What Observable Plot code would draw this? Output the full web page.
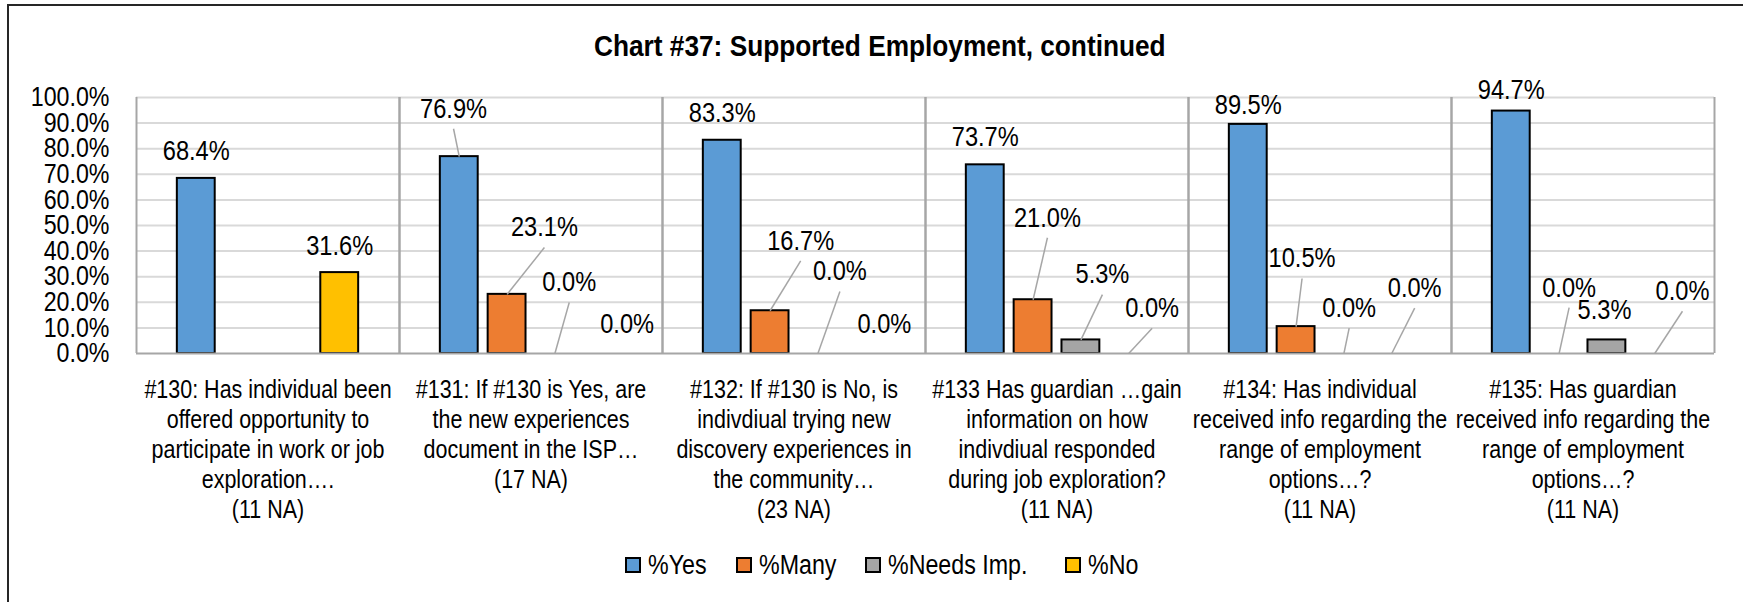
<!DOCTYPE html>
<html>
<head>
<meta charset="utf-8">
<script src="https://cdn.jsdelivr.net/npm/d3@7"></script>
<script src="https://cdn.jsdelivr.net/npm/@observablehq/plot@0.6"></script>
<style>
  html, body { margin: 0; padding: 0; background: #fff; }
  body { width: 1743px; height: 602px; position: relative; overflow: hidden;
         font-family: "Liberation Sans", Arial, sans-serif; }
  #frame { position: absolute; left: 7px; top: 4px; width: 1760px; height: 620px;
           border-left: 2px solid #262626; border-top: 2px solid #262626; }
  #title { position: absolute; left: 8px; width: 1743px; top: 27.5px; text-align: center;
           font-weight: bold; font-size: 29px; color: #000; line-height: 36px; }
  #title span { display: inline-block; transform: scaleX(0.905); transform-origin: center; }
  #chart { position: absolute; left: 0; top: 64px; }
  .item { position: absolute; top: 549px; height: 32px; display: flex; align-items: center; font-size: 27px; color: #000; white-space: nowrap; }
  .sw { width: 12px; height: 12px; border: 2px solid #000; margin-right: 7px; flex: none; }
  .item span { display: inline-block; transform: scaleX(0.86); transform-origin: left center; }
</style>
</head>
<body>
<div id="frame"></div>
<div id="title"><span>Chart #37: Supported Employment, continued</span></div>
<div id="chart"></div>
<script>
// ---- data ----
const questions = ["#130", "#131", "#132", "#133", "#134", "#135"];
const questionLabels = [
  "#130: Has individual been\noffered opportunity to\nparticipate in work or job\nexploration….\n(11 NA)",
  "#131: If #130 is Yes, are\nthe new experiences\ndocument in the ISP…\n(17 NA)",
  "#132: If #130 is No, is\nindivdiual trying new\ndiscovery experiences in\nthe community…\n(23 NA)",
  "#133 Has guardian …gain\ninformation on how\nindivdiual responded\nduring job exploration?\n(11 NA)",
  "#134: Has individual\nreceived info regarding the\nrange of employment\noptions…?\n(11 NA)",
  "#135: Has guardian\nreceived info regarding the\nrange of employment\noptions…?\n(11 NA)"
];
const seriesNames = ["%Yes", "%Many", "%Needs Imp.", "%No"];
const yesValues   = [68.4, 76.9, 83.3, 73.7, 89.5, 94.7];
const manyValues  = [null, 23.1, 16.7, 21.0, 10.5, 0.0];
const needsValues = [null, 0.0, 0.0, 5.3, 0.0, 5.3];
const noValues    = [31.6, 0.0, 0.0, 0.0, 0.0, 0.0];
const yTicks = [0, 10, 20, 30, 40, 50, 60, 70, 80, 90, 100];

// ---- styling / label placement (kept apart from data) ----
const colors = ["#5b9bd5", "#ed7d31", "#a5a5a5", "#ffc000"];
// data-label placement per question and series: [x shift in slot units, label y in %]
const labelShift = [
  [[0, 79.1], null, null, [0, 42.1]],
  [[-0.12, 95.6], [0.78, 49.2], [0.30, 27.7], [0.51, 11.3]],
  [[0, 94.0], [0.64, 44.0], [0.46, 32.0], [0.39, 11.3]],
  [[0, 84.6], [0.30, 53.0], [0.45, 30.8], [0.49, 17.7]],
  [[0, 97.1], [0.125, 37.1], [0.11, 17.7], [0.48, 25.5]],
  [[0, 102.7], [0.21, 25.7], [-0.05, 16.8], [0.58, 24.3]]
];
const leaders = [
  [false, false, false, false],
  [true, true, true, false],
  [false, true, true, false],
  [false, true, true, true],
  [false, true, true, true],
  [false, true, false, true]
];
const legendLeft = [625, 736, 865, 1065];
const NARROW = 0.86;

const allSeries = [yesValues, manyValues, needsValues, noValues];
const rows = [];
questions.forEach((q, qi) => {
  allSeries.forEach((vals, si) => {
    const v = vals[qi];
    if (v == null) return;
    const ls = labelShift[qi][si];
    rows.push({q, series: seriesNames[si], slot: si, value: v,
               lx: si + ls[0], ly: ls[1], leader: leaders[qi][si]});
  });
});
const cats = questions.map((q, i) => ({q, label: questionLabels[i]}));

const FONT = '"Liberation Sans", Arial, sans-serif';
const half = 0.396;

const chart = Plot.plot({
  width: 1743,
  height: 481,
  marginTop: 33,
  marginBottom: 192,
  marginLeft: 133,
  marginRight: 27,
  style: {fontFamily: FONT, fontSize: "27px", color: "#000", background: "transparent", overflow: "visible"},
  fx: {domain: questions, padding: 0, axis: null},
  x: {domain: [-1.25, 4.25], axis: null},
  y: {domain: [0, 100], axis: null},
  color: {domain: seriesNames, range: colors},
  marks: [
    Plot.ruleY(yTicks.filter(d => d > 0), {stroke: "#d9d9d9", strokeWidth: 2, x1: -1.25, x2: 4.25}),
    Plot.ruleX(cats, {fx: "q", x: () => -1.25, y1: 0, y2: 100, stroke: "#a6a6a6", strokeWidth: 2}),
    Plot.ruleX(cats, {fx: "q", x: () => 4.25, y1: 0, y2: 100, stroke: "#a6a6a6", strokeWidth: 2}),
    Plot.rectY(rows.filter(d => d.value > 0), {
      fx: "q", x1: d => d.slot - half, x2: d => d.slot + half, y1: 0, y2: "value",
      fill: "series", stroke: "#000", strokeWidth: 2
    }),
    Plot.ruleY([0], {stroke: "#a6a6a6", strokeWidth: 2, x1: -1.25, x2: 4.25}),
    Plot.link(rows.filter(d => d.leader), {
      fx: "q", x1: "slot", y1: "value", x2: "lx", y2: d => d.ly - 7.8,
      stroke: "#a6a6a6", strokeWidth: 1.5
    }),
    Plot.text(rows, {
      fx: "q", x: "lx", y: "ly", text: d => d.value.toFixed(1) + "%",
      fontSize: 27.5, fill: "#000"
    }),
    Plot.axisY({ticks: yTicks, tickFormat: d => d.toFixed(1) + "%", tickSize: 0, tickPadding: 27,
      fontSize: 27, label: null, anchor: "left"}),
    Plot.text(cats, {
      fx: "q", text: "label", frameAnchor: "bottom", lineAnchor: "top", dy: 23.5,
      fontSize: 25, lineHeight: 1.2, fill: "#000"
    })
  ]
});

// condense all chart texts horizontally about their anchor (Arial Narrow look)
chart.querySelectorAll("text").forEach(t => {
  const tr = t.getAttribute("transform");
  if (tr) {
    t.setAttribute("transform", tr + ` scale(${NARROW},1)`);
  } else {
    const x = +(t.getAttribute("x") || 0);
    t.setAttribute("transform", `translate(${x},0) scale(${NARROW},1) translate(${-x},0)`);
  }
});
document.getElementById("chart").appendChild(chart);

seriesNames.forEach((name, i) => {
  const item = document.createElement("div");
  item.className = "item";
  item.style.left = legendLeft[i] + "px";
  const sw = document.createElement("div");
  sw.className = "sw";
  sw.style.background = colors[i];
  const t = document.createElement("span");
  t.textContent = name;
  item.appendChild(sw);
  item.appendChild(t);
  document.body.appendChild(item);
});
</script>
</body>
</html>
